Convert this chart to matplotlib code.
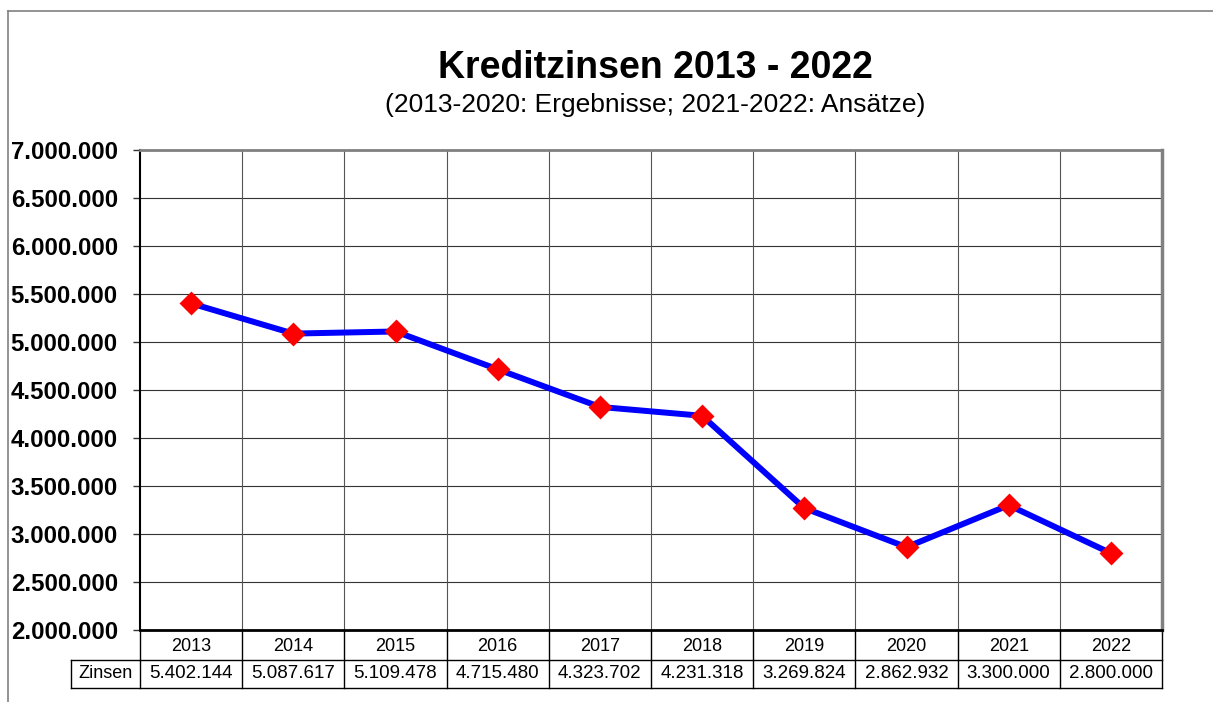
import matplotlib.pyplot as plt
from matplotlib.lines import Line2D
from matplotlib.ticker import FuncFormatter

plt.rcParams['font.family'] = ['Liberation Sans', 'DejaVu Sans']

# data
years = ["2013", "2014", "2015", "2016", "2017", "2018", "2019", "2020", "2021", "2022"]
zinsen = [5402144, 5087617, 5109478, 4715480, 4323702, 4231318, 3269824, 2862932, 3300000, 2800000]
row_label = "Zinsen"
y_ticks = [2000000, 2500000, 3000000, 3500000, 4000000, 4500000,
           5000000, 5500000, 6000000, 6500000, 7000000]


def de_format(v):
    return f"{int(v):,}".replace(",", ".")


W, H = 1213, 702
fig = plt.figure(figsize=(W / 100, H / 100), dpi=100)

# outer frame (top and left edge)
fig.add_artist(Line2D([8 / W, 1], [1 - 11 / H, 1 - 11 / H], color="#808080", lw=1.2))
fig.add_artist(Line2D([8 / W, 8 / W], [0, 1 - 11 / H], color="#808080", lw=1.2))

ax = fig.add_axes([140 / W, (H - 630) / H, 1022 / W, 480 / H])
x = list(range(len(years)))

ax.plot(x, zinsen, color="#0000ff", lw=4.3, zorder=3)
ax.plot(x, zinsen, ls="none", marker="D", ms=10.5, color="#ff0000",
        mec="#ff0000", mew=2, zorder=4)

ax.set_xlim(-0.5, len(years) - 0.5)
ax.set_ylim(y_ticks[0], y_ticks[-1])
ax.set_yticks(y_ticks)
ax.yaxis.set_major_formatter(FuncFormatter(lambda v, p: de_format(v)))
ax.tick_params(axis="y", length=5, width=1, color="#333333", pad=11, labelsize=17.3)
for lab in ax.get_yticklabels():
    lab.set_fontweight("bold")

# years row as category labels
ax.set_xticks(x)
ax.set_xticklabels(years, fontsize=13)
ax.tick_params(axis="x", length=0, pad=6)

# grid
for yv in y_ticks[1:-1]:
    ax.axhline(yv, color="#333333", lw=0.8, zorder=1)
for k in range(len(years) - 1):
    ax.axvline(k + 0.5, color="#555555", lw=0.8, zorder=1)

ax.spines["left"].set_color("black")
ax.spines["left"].set_linewidth(1.5)
ax.spines["bottom"].set_color("black")
ax.spines["bottom"].set_linewidth(2)
ax.spines["top"].set_color("#808080")
ax.spines["top"].set_linewidth(2)
ax.spines["right"].set_color("#808080")
ax.spines["right"].set_linewidth(2.5)

# data table below the axis
tr = ax.get_xaxis_transform()
y_year_bot = -30 / 480
y_row_bot = -58 / 480
left_cell = -0.5 - 69 / 102.2
n = len(years)
for k in range(n + 1):
    ax.plot([k - 0.5, k - 0.5], [0, y_row_bot], color="black", lw=1,
            transform=tr, clip_on=False)
for yy in (y_year_bot, y_row_bot):
    ax.plot([left_cell, n - 0.5], [yy, yy], color="black", lw=1,
            transform=tr, clip_on=False)
ax.plot([left_cell, left_cell], [y_year_bot, y_row_bot], color="black", lw=1,
        transform=tr, clip_on=False)

y_mid = (y_year_bot + y_row_bot) / 2
ax.text((left_cell - 0.5) / 2, y_mid, row_label, transform=tr, ha="center",
        va="center", fontsize=13)
for k, v in enumerate(zinsen):
    ax.text(k, y_mid, de_format(v), transform=tr, ha="center", va="center",
            fontsize=13.5)

fig.text(655 / W, 1 - 68 / H, "Kreditzinsen 2013 - 2022", ha="center",
         va="center", fontsize=27, fontweight="bold")
fig.text(655 / W, 1 - 105 / H, "(2013-2020: Ergebnisse; 2021-2022: Ansätze)",
         ha="center", va="center", fontsize=19)

fig.savefig("out.png", dpi=100)
